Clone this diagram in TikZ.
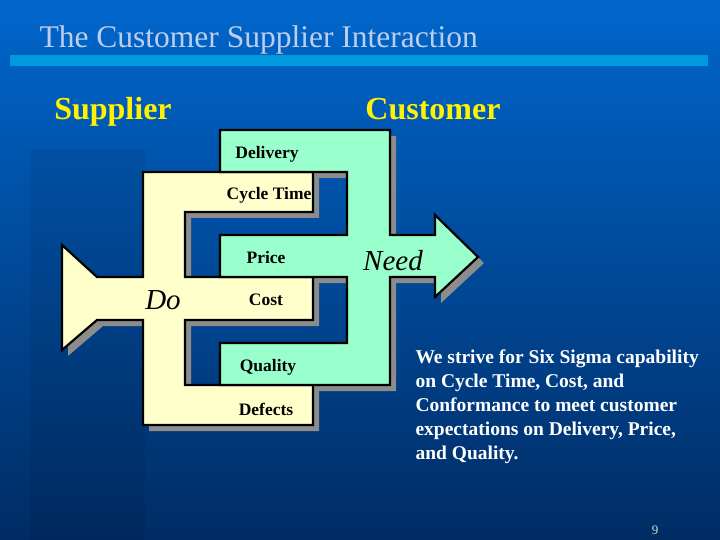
\documentclass[tikz,border=0pt]{standalone}
\usepackage{fontspec}
\setmainfont{Liberation Serif}
\definecolor{bgtop}{RGB}{0,102,204}
\definecolor{bgbot}{RGB}{0,44,100}
\definecolor{barc}{RGB}{0,153,221}
\definecolor{titc}{RGB}{190,205,235}
\definecolor{ylw}{RGB}{255,255,204}
\definecolor{grn}{RGB}{153,255,204}
\definecolor{pgc}{RGB}{220,220,200}
\begin{document}
\begin{tikzpicture}[x=1pt,y=-1pt,
  outl/.style={draw=black,line width=2.2pt,line join=miter},
  shad/.style={fill=black!45,draw=none},
  lab/.style={font=\bfseries\fontsize{17.5}{17.5}\selectfont,text=black},
  big/.style={font=\itshape\fontsize{29}{29}\selectfont,text=black}]
\useasboundingbox (0,0) rectangle (720,540);
\shade[top color=bgtop,bottom color=bgbot] (0,0) rectangle (720,540);
\fill[black,opacity=0.07] (30,150) rectangle (145,540);
\fill[barc] (10,55) rectangle (708,66);
\node[anchor=base west,font=\fontsize{31.5}{31.5}\selectfont,text=titc] (title) at (36,48) {The Customer Supplier Interaction};
\node[font=\bfseries\fontsize{32}{32}\selectfont,text=yellow] (sup) at (113,112) {Supplier};
\node[font=\bfseries\fontsize{32}{32}\selectfont,text=yellow] (cus) at (433,109) {Customer};
\def\ypath{(62,245) -- (97,277) -- (143,277) -- (143,172) -- (313,172) -- (313,212) -- (185,212) -- (185,277) -- (313,277) -- (313,320) -- (185,320) -- (185,385) -- (313,385) -- (313,425) -- (143,425) -- (143,320) -- (97,320) -- (62,350) -- cycle}
\def\gpath{(220,130) -- (390,130) -- (390,235) -- (435,235) -- (435,215) -- (478,257) -- (435,297) -- (435,277) -- (390,277) -- (390,385) -- (220,385) -- (220,343) -- (347,343) -- (347,277) -- (220,277) -- (220,235) -- (347,235) -- (347,172) -- (220,172) -- cycle}
\begin{scope}[shift={(6,6)}]
\fill[shad] \ypath;
\fill[shad] \gpath;
\end{scope}
\filldraw[outl,fill=ylw] \ypath;
\filldraw[outl,fill=grn] \gpath;
\node[lab] (del) at (267,154) {Delivery};
\node[lab] (cyc) at (269,195) {Cycle Time};
\node[lab] (pri) at (266,258) {Price};
\node[lab] (cos) at (266,300) {Cost};
\node[lab] (qua) at (268,367) {Quality};
\node[lab] (def) at (266,409) {Defects};
\node[big] (do) at (163,300) {Do};
\node[big] (need) at (393,261) {Need};
\node[anchor=north west,align=left,text=white,font=\bfseries\fontsize{19.5}{24}\selectfont] (txt) at (412,346) {We strive for Six Sigma capability\\on Cycle Time, Cost, and\\Conformance to meet customer\\expectations on Delivery, Price,\\and Quality.};
\node[text=pgc,font=\fontsize{13}{13}\selectfont] (pg) at (655,530) {9};
\end{tikzpicture}
\end{document}
